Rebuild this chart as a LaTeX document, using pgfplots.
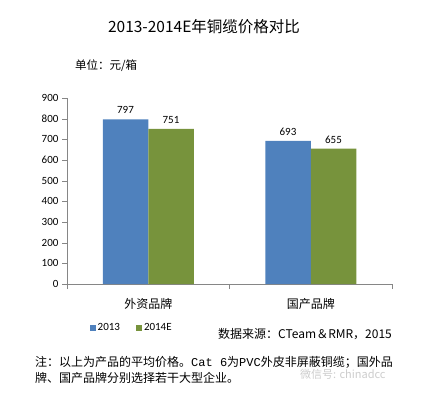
\documentclass[border=0pt]{standalone}
\usepackage{pgfplots}
\pgfplotsset{compat=1.18}
\usepackage{fontspec}
\setmainfont{Carlito}
\setmonofont{Liberation Mono}
\newfontfamily\cjk{Noto Sans CJK SC}
\definecolor{barblue}{RGB}{79,129,189}
\definecolor{bargreen}{RGB}{119,147,60}
\definecolor{axgray}{RGB}{134,134,134}
\begin{document}
\begin{tikzpicture}
\path[use as bounding box] (0pt,0pt) rectangle (422pt,394pt);
\begin{axis}[
  at={(67pt,110pt)}, anchor=south west,
  scale only axis, width=325pt, height=186pt,
  ybar=0pt, bar width=45.5pt,
  xmin=-0.5, xmax=1.5, ymin=0, ymax=900,
  ytick={0,100,...,900},
  xtick={0,1}, xticklabels={外资品牌,国产品牌},
  minor xtick={-0.5,0.5,1.5},
  major x tick style={draw=none},
  minor x tick style={axgray},
  axis x line*=bottom, axis y line*=left,
  axis line style={axgray},
  y tick style={axgray},
  tick align=outside, major tick length=5pt, minor tick length=5pt,
  /pgf/number format/assume math mode=true,
  yticklabel style={font=\fontsize{11}{13}\selectfont},
  xticklabel style={font=\cjk\fontsize{12}{14}\selectfont, yshift=-6pt},
  nodes near coords,
  every node near coord/.append style={font=\fontsize{11}{13}\selectfont, black, yshift=2pt},
  legend style={at={(axis description cs:0.06,-0.237)}, anchor=west, legend columns=2, draw=none, fill=none, font=\fontsize{11}{13}\selectfont, /tikz/every even column/.append style={column sep=14pt}},
  legend image code/.code={\fill[#1] (0pt,-3pt) rectangle (6pt,3pt);},
]
\addplot[fill=barblue, draw=none] coordinates {(0,797) (1,693)};
\addplot[fill=bargreen, draw=none] coordinates {(0,751) (1,655)};
\legend{2013,2014E}
\end{axis}
\node[font=\cjk\fontsize{15.5}{18}\selectfont] at (204pt,367pt) {2013-2014E年铜缆价格对比};
\node[font=\cjk\fontsize{11.5}{14}\selectfont, anchor=west, inner sep=0pt] at (75pt,328pt) {单位：元/箱};
\node[font=\cjk\fontsize{12}{14}\selectfont, anchor=west, inner sep=0pt] at (218pt,60pt) {数据来源：CTeam＆RMR，2015};
\node[font=\cjk\fontsize{11}{13}\selectfont, text=black!20, anchor=west, inner sep=0pt] at (300pt,20pt) {微信号: chinadcc};
\node[font=\cjk\fontsize{12}{14}\selectfont, anchor=base west, inner sep=0pt] at (35pt,28pt) {注：以上为产品的平均价格。{\ttfamily Cat 6}为{\ttfamily PVC}外皮非屏蔽铜缆；国外品};
\node[font=\cjk\fontsize{12}{14}\selectfont, anchor=base west, inner sep=0pt] at (35pt,12pt) {牌、国产品牌分别选择若干大型企业。};
\end{tikzpicture}
\end{document}
